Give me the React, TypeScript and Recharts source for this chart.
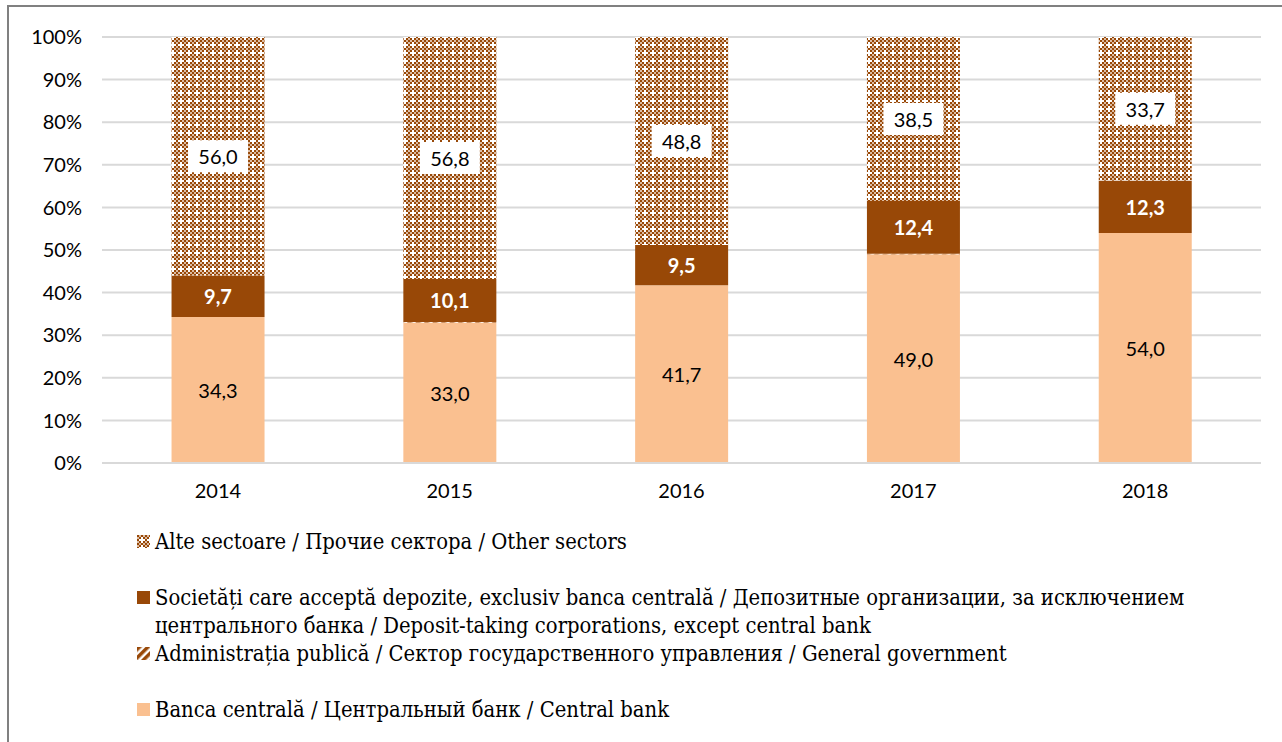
import React from 'react';
import { BarChart, Bar, XAxis, YAxis, CartesianGrid, LabelList } from 'recharts';

const years = ['2014', '2015', '2016', '2017', '2018'];
const centralBank = [34.3, 33.0, 41.7, 49.0, 54.0];
const generalGov = [0, 0.1, 0, 0.1, 0];
const depositTaking = [9.7, 10.1, 9.5, 12.4, 12.3];
const otherSectors = [56.0, 56.8, 48.8, 38.5, 33.7];
const yTicks = [0, 10, 20, 30, 40, 50, 60, 70, 80, 90, 100];

const legendItems = [
  { key: 'other', text: 'Alte sectoare / Прочие сектора / Other sectors', fill: 'url(#patOther)' },
  { key: 'deposit', text: 'Societăți care acceptă depozite, exclusiv banca centrală / Депозитные организации, за исключением центрального банка / Deposit-taking corporations, except central bank', fill: '#984807' },
  { key: 'gov', text: 'Administrația publică / Сектор государственного управления / General government', fill: 'url(#patGov)' },
  { key: 'central', text: 'Banca centrală / Центральный банк / Central bank', fill: '#FAC090' },
];

const data = years.map((y, i) => ({
  year: y,
  central: centralBank[i],
  gov: generalGov[i],
  deposit: depositTaking[i],
  other: otherSectors[i],
}));

const fmt = (v: number) => v.toFixed(1).replace('.', ',');
const numFont = "Lato, 'Open Sans', sans-serif";
const serifFont = "'DejaVu Serif Condensed', 'DejaVu Serif', serif";

const Patterns = () => (
  <defs>
    <pattern id="patOther" patternUnits="userSpaceOnUse" width="8" height="8">
      <rect width="8" height="8" fill="#dcbca3" />
      {[0, 1, 2, 3].flatMap((i) =>
        [0, 1, 2, 3].map((j) =>
          (i + j) % 2 === 0 && !(i === 2 && j === 2) ? (
            <rect key={`${i}-${j}`} x={i * 2} y={j * 2} width="2" height="2" fill="#984807" />
          ) : null
        )
      )}
      <rect x="4" y="4" width="2" height="2" fill="#ffffff" />
      <rect x="2" y="4" width="2" height="2" fill="#ffffff" />
      <rect x="6" y="4" width="2" height="2" fill="#ffffff" />
      <rect x="4" y="2" width="2" height="2" fill="#ffffff" />
      <rect x="4" y="6" width="2" height="2" fill="#ffffff" />
    </pattern>
    <pattern id="patGov" patternUnits="userSpaceOnUse" width="6" height="6" patternTransform="rotate(45)">
      <rect width="6" height="6" fill="#ffffff" />
      <rect width="3.5" height="6" fill="#984807" />
    </pattern>
  </defs>
);

const OtherLabel = (props: any) => {
  const { x, y, width, height, value } = props;
  const cx = x + width / 2;
  const cy = y + height / 2;
  return (
    <g>
      <rect x={cx - 30} y={cy - 16} width={60} height={32} fill="#ffffff" />
      <text x={cx} y={cy} textAnchor="middle" dominantBaseline="central" fontFamily={numFont} fontSize={20} fill="#000">
        {fmt(value)}
      </text>
    </g>
  );
};

const DepositLabel = (props: any) => {
  const { x, y, width, height, value } = props;
  return (
    <text x={x + width / 2} y={y + height / 2} textAnchor="middle" dominantBaseline="central" fontFamily={numFont} fontWeight={700} fontSize={20} fill="#ffffff">
      {fmt(value)}
    </text>
  );
};

const CentralLabel = (props: any) => {
  const { x, y, width, height, value } = props;
  return (
    <text x={x + width / 2} y={y + height / 2} textAnchor="middle" dominantBaseline="central" fontFamily={numFont} fontSize={20} fill="#000">
      {fmt(value)}
    </text>
  );
};

const App = () => {
  return (
    <div style={{ position: 'absolute', left: 0, top: 0, width: 1282, height: 742, background: '#fff', overflow: 'hidden' }}>
      <div style={{ position: 'absolute', left: 7, top: 5, width: 1300, height: 800, borderTop: '2px solid #808080', borderLeft: '2px solid #808080' }} />
      <svg width="0" height="0" style={{ position: 'absolute' }}>
        <Patterns />
      </svg>
      <div style={{ position: 'absolute', left: 0, top: 0 }}>
        <BarChart width={1282} height={510} data={data} margin={{ top: 37, right: 21, bottom: 10, left: 2 }} barCategoryGap="30%">
          <Patterns />
          <CartesianGrid vertical={false} stroke="#d9d9d9" strokeWidth={2} />
          <XAxis
            dataKey="year"
            height={37}
            tickLine={false}
            axisLine={{ stroke: '#d9d9d9', strokeWidth: 2 }}
            tickSize={0}
            tickMargin={21}
            tick={{ fontFamily: numFont, fontSize: 20, fill: '#000' }}
          />
          <YAxis
            width={100}
            domain={[0, 100]}
            ticks={yTicks}
            tickFormatter={(v: number) => `${v}%`}
            axisLine={false}
            tickLine={false}
            tickSize={0}
            tickMargin={20}
            tick={{ fontFamily: numFont, fontSize: 20, fill: '#000' }}
          />
          <Bar dataKey="central" stackId="a" fill="#FAC090" isAnimationActive={false}>
            <LabelList dataKey="central" content={CentralLabel} />
          </Bar>
          <Bar dataKey="gov" stackId="a" fill="url(#patGov)" isAnimationActive={false} />
          <Bar dataKey="deposit" stackId="a" fill="#984807" isAnimationActive={false}>
            <LabelList dataKey="deposit" content={DepositLabel} />
          </Bar>
          <Bar dataKey="other" stackId="a" fill="url(#patOther)" isAnimationActive={false}>
            <LabelList dataKey="other" content={OtherLabel} />
          </Bar>
        </BarChart>
      </div>
      <div style={{ position: 'absolute', left: 137, top: 528, width: 1090, fontFamily: serifFont, fontSize: 21.8, lineHeight: '28px', color: '#000' }}>
        {legendItems.map((it, i) => (
          <div key={it.key} style={{ display: 'flex', alignItems: 'flex-start', marginBottom: i === 1 ? 0 : 28 }}>
            <svg width={14} height={14} style={{ flex: 'none', marginTop: 7, marginRight: 4 }}>
              <rect width={13} height={13} fill={it.fill} />
            </svg>
            <span>{it.text}</span>
          </div>
        ))}
      </div>
    </div>
  );
};

export default App;
